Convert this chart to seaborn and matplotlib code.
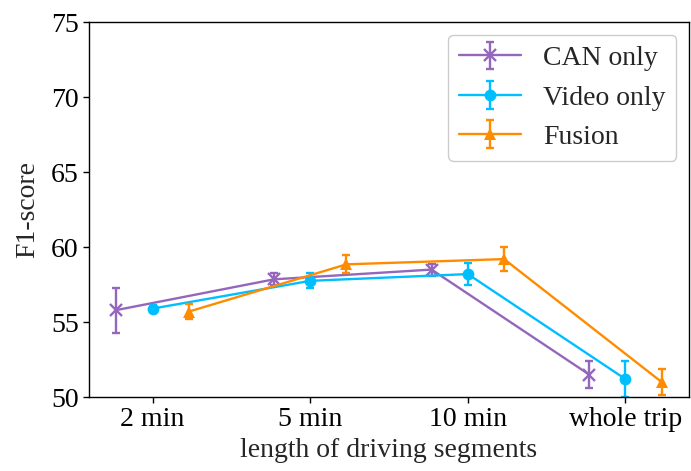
import numpy as np
import matplotlib
matplotlib.use("Agg")
import matplotlib.pyplot as plt
import seaborn as sns
from matplotlib.legend_handler import HandlerTuple

# Segment lengths and F1-scores (mean and half-width of the error bar)
segments = ["2 min", "5 min", "10 min", "whole trip"]
series_names = ["CAN only", "Video only", "Fusion"]

can_mean = [55.8, 57.85, 58.5, 51.5]
can_err = [1.5, 0.4, 0.4, 0.9]
video_mean = [55.9, 57.75, 58.2, 51.2]
video_err = [0.25, 0.5, 0.75, 1.2]
fusion_mean = [55.7, 58.85, 59.2, 51.0]
fusion_err = [0.5, 0.6, 0.8, 0.85]

colors = ["#9467bd", "#00bfff", "#ff8c00"]
markers = ["x", "o", "^"]
offsets = [-0.23, 0.0, 0.23]

sns.set_style("ticks")
plt.rcParams["font.family"] = ["Liberation Serif", "DejaVu Serif"]

fig = plt.figure(figsize=(6.91, 4.71), dpi=100)
ax = fig.add_axes([0.129, 0.157, 0.868, 0.796])

means = [can_mean, video_mean, fusion_mean]
errs = [can_err, video_err, fusion_err]
base = np.arange(len(segments))

bar_handles = []
for name, m, e, c, mk, off in zip(series_names, means, errs, colors, markers, offsets):
    x = base + off
    sns.lineplot(x=x, y=m, ax=ax, color=c, marker=mk, markersize=8.5,
                 markeredgewidth=1.7 if mk == "x" else 0, markeredgecolor=c,
                 linewidth=1.7, legend=False, sort=False)
    eb = ax.errorbar(x, m, yerr=e, fmt="none", ecolor=c, elinewidth=1.7,
                     capsize=3, capthick=1.7)
    bar_handles.append(eb)

# Legend entries combine the line/marker with its error bar
data_lines = [l for l in ax.lines if l.get_marker() in markers]
legend_handles = [(dl, eb) for dl, eb in zip(data_lines, bar_handles)]
ax.legend(legend_handles, series_names, loc="upper right", fontsize=20,
          handlelength=2.2, handler_map={tuple: HandlerTuple(ndivide=1)},
          framealpha=1.0, edgecolor="#cccccc", borderaxespad=0.45)

ax.set_ylim(50, 75)
ax.set_yticks([50, 55, 60, 65, 70, 75])
ax.set_xticks(base)
ax.set_xticklabels(segments)
ax.tick_params(axis="both", labelsize=20, direction="out", length=4, width=1,
               colors="black")
ax.set_xlabel("length of driving segments", fontsize=20, labelpad=4)
ax.set_ylabel("F1-score", fontsize=20, labelpad=8)
for sp in ax.spines.values():
    sp.set_color("black")
    sp.set_linewidth(1.0)

fig.savefig("out.png", dpi=100)
